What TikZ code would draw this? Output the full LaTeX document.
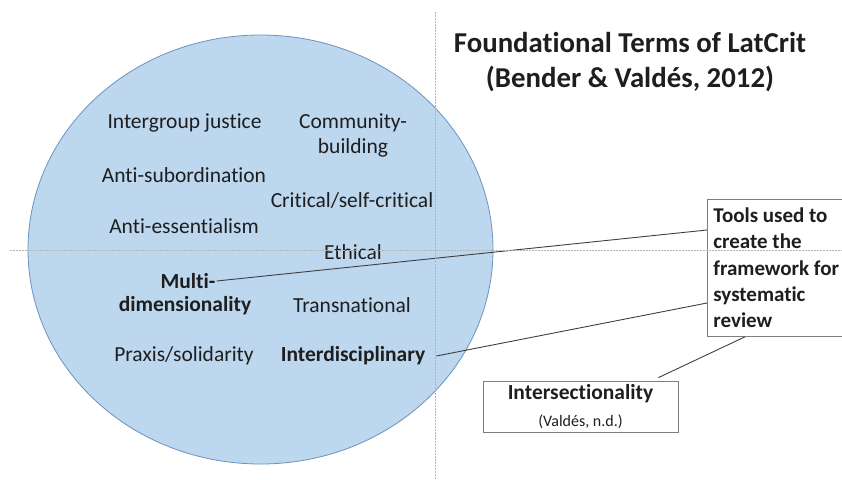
\documentclass[tikz,border=0pt]{standalone}
\usepackage{fontspec}
\setmainfont{Carlito}[Ligatures=NoCommon]
\usetikzlibrary{calc}
\definecolor{ovalfill}{HTML}{BDD7EE}
\definecolor{ovalline}{HTML}{6A93C0}
\definecolor{guidegray}{HTML}{B4B4B4}
\definecolor{boxline}{HTML}{7F7F7F}
\definecolor{linkgray}{HTML}{3F3F3F}
\definecolor{ink}{HTML}{1E1E1E}
\begin{document}
\begin{tikzpicture}[x=1pt,y=-1pt,
  every node/.style={text=ink},
  term/.style={inner sep=1pt, font=\fontsize{21.5}{25.5}\selectfont, align=center},
  keyterm/.style={term, font=\bfseries\fontsize{21.5}{25.5}\selectfont},
  titletext/.style={inner sep=0pt, align=center, font=\bfseries\fontsize{28.8}{35}\selectfont},
  notebox/.style={draw=boxline, line width=0.8pt, fill=white},
  link/.style={draw=linkgray, line width=0.9pt},
  guide/.style={draw=guidegray, line width=0.6pt, dash pattern=on 1.5pt off 1.5pt}]
\clip (0,0) rectangle (842,479);
\useasboundingbox (0,0) rectangle (842,479);

% central oval holding the foundational terms
\draw[fill=ovalfill, draw=ovalline, line width=0.8pt]
  (260.5,249.5) ellipse [x radius=232.5pt, y radius=214.5pt];

% title
\node[titletext] (title) at (630,62.5) {Foundational Terms of LatCrit\\(Bender \& Valdés, 2012)};

% terms, left column
\node[term] (intergroup) at (184.5,123) {Intergroup justice};
\node[term] (antisub) at (184,175) {Anti-subordination};
\node[term] (antiess) at (184,226) {Anti-essentialism};
\node[keyterm] (multi) at (188,281) {Multi-};
\node[keyterm] (dimen) at (185,306) {dimensionality};
\node[term] (praxis) at (184,356) {Praxis/solidarity};

% terms, right column
\node[term] (community) at (353,135.5) {Community-\\building};
\node[term] (critical) at (352,200) {Critical/self-critical};
\node[term] (ethical) at (353,252) {Ethical};
\node[term] (transnat) at (352,305) {Transnational};
\node[keyterm] (interd) at (353,356) {Interdisciplinary};

% side boxes
\node[notebox, anchor=north west, minimum height=137pt, text width=140pt,
      inner xsep=6pt, inner ysep=4pt, align=flush left,
      font=\bfseries\fontsize{21}{26.3}\selectfont]
  (tools) at (707,199) {Tools used to\\create the\\framework for\\systematic\\review};
\node[notebox, minimum width=195pt, minimum height=51pt, inner sep=2pt, align=center,
      font=\bfseries\fontsize{21.5}{27}\selectfont]
  (inter) at (580.5,406.5) {Intersectionality\\{\normalfont\fontsize{16}{20}\selectfont (Valdés, n.d.)}};

% connectors
\draw[link] (multi.east) -- ([yshift=-31pt]tools.north west);
\draw[link] ([xshift=10pt]interd.east) -- ([yshift=-104pt]tools.north west);
\draw[link] ([xshift=-20pt,yshift=3pt]inter.north east) -- ([xshift=38pt]tools.south west);

% layout guides
\draw[guide] (435,12) -- (435,479);
\draw[guide] (10,250) -- (842,250);
\end{tikzpicture}
\end{document}
